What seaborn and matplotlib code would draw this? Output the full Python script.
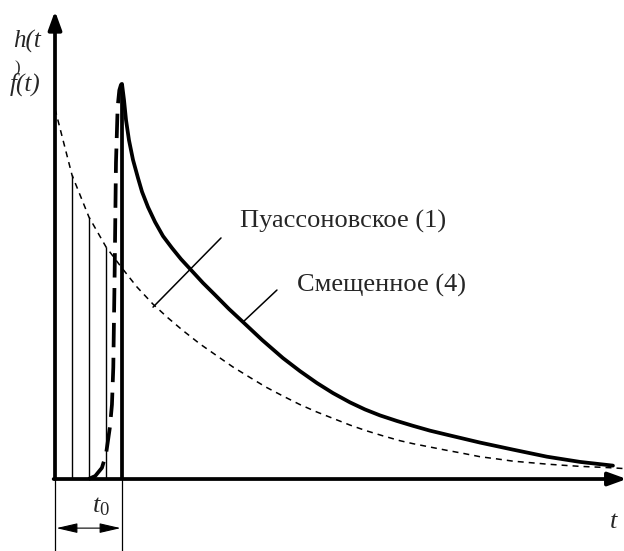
import matplotlib
matplotlib.use("Agg")
import matplotlib.pyplot as plt
import seaborn as sns
import pandas as pd

# ---- data (t in units of t0, values in units of f(0)) ----
t0 = 1.0
t_pois = [0.0, 0.254, 0.507, 0.761, 1.0, 1.224, 1.463, 1.687, 1.91, 2.164, 2.418,
          2.657, 2.91, 3.149, 3.403, 3.657, 3.91, 4.149, 4.403, 4.642, 4.896,
          5.149, 5.343, 5.597, 5.851, 6.09, 6.343, 6.597, 6.836, 7.09, 7.343,
          7.582, 7.836, 8.09, 8.328, 8.493]
f_pois = [0.995, 0.817, 0.704, 0.624, 0.567, 0.516, 0.47, 0.433, 0.399, 0.363,
          0.331, 0.301, 0.273, 0.247, 0.223, 0.2, 0.18, 0.163, 0.145, 0.13,
          0.116, 0.103, 0.095, 0.086, 0.077, 0.069, 0.06, 0.054, 0.048, 0.044,
          0.04, 0.037, 0.034, 0.032, 0.03, 0.028]

t_shift = [1.0, 1.03, 1.06, 1.104, 1.164, 1.239, 1.299, 1.388, 1.493, 1.612,
           1.746, 1.881, 2.03, 2.209, 2.388, 2.597, 2.806, 3.09, 3.403, 3.657,
           3.91, 4.149, 4.403, 4.627, 4.851, 5.104, 5.343, 5.597, 5.851, 6.343,
           6.836, 7.343, 7.836, 8.328]
h_shift = [1.062, 1.019, 0.965, 0.911, 0.858, 0.809, 0.772, 0.731, 0.691, 0.653,
           0.621, 0.591, 0.562, 0.527, 0.495, 0.457, 0.422, 0.374, 0.325, 0.29,
           0.258, 0.231, 0.206, 0.187, 0.171, 0.156, 0.143, 0.13, 0.119, 0.098,
           0.079, 0.06, 0.046, 0.036]

t_rise = [0.5, 0.6, 0.7, 0.76, 0.82, 0.85, 0.87, 0.89, 0.91, 0.935, 0.96, 0.985, 1.0]
g_rise = [0.0, 0.008, 0.03, 0.065, 0.14, 0.2, 0.3, 0.55, 0.85, 1.0, 1.045, 1.06, 1.062]

hatch_idx = [1, 2, 3]          # thin verticals at t = 0.25, 0.5, 0.75
label_pois = "Пуассоновское (1)"
label_shift = "Смещенное (4)"

# ---- figure ----
sns.set_theme(style="white")
plt.rcParams["font.family"] = ["Liberation Serif", "DejaVu Serif"]
plt.rcParams["mathtext.fontset"] = "custom"
plt.rcParams["mathtext.it"] = "Liberation Serif:italic"
plt.rcParams["mathtext.rm"] = "Liberation Serif"

fig = plt.figure(figsize=(6.24, 5.51), dpi=100)
ax = fig.add_axes([0, 0, 1, 1])
x_lo, x_hi = -0.821, 8.493
y_lo, y_hi = -0.1935, 1.2876
ax.set_xlim(x_lo, x_hi)
ax.set_ylim(y_lo, y_hi)
ax.axis("off")

df_p = pd.DataFrame({"t": t_pois, "v": f_pois})
df_s = pd.DataFrame({"t": t_shift, "v": h_shift})
df_r = pd.DataFrame({"t": t_rise, "v": g_rise})

sns.lineplot(data=df_p, x="t", y="v", ax=ax, color="black", lw=1.1,
             estimator=None, sort=False)
ax.lines[-1].set_dashes((3.9, 3.3))
sns.lineplot(data=df_s, x="t", y="v", ax=ax, color="black", lw=2.7,
             estimator=None, sort=False, solid_joinstyle="round",
             solid_capstyle="round")
sns.lineplot(data=df_r, x="t", y="v", ax=ax, color="black", lw=2.7,
             estimator=None, sort=False)
ax.lines[-1].set_dashes((6.5, 2.8))

# thin verticals under the Poisson curve
ax.vlines([t_pois[i] for i in hatch_idx], 0, [f_pois[i] for i in hatch_idx],
          color="black", lw=1.0)
# thick vertical at t0
ax.vlines(t0, 0, h_shift[0], color="black", lw=2.7)
# thin extensions below the axis
ax.vlines([0, t0], y_lo, 0, color="black", lw=0.9)

# axes with arrows
ax.annotate("", xy=(0, 1.258), xytext=(0, 0),
            arrowprops=dict(arrowstyle="-|>,head_length=0.55,head_width=0.2",
                            mutation_scale=20, lw=2.7, color="black",
                            shrinkA=0, shrinkB=0))
ax.annotate("", xy=(x_hi + 0.04, 0), xytext=(-0.02, 0), annotation_clip=False,
            arrowprops=dict(arrowstyle="-|>,head_length=0.55,head_width=0.2",
                            mutation_scale=20, lw=2.7, color="black",
                            shrinkA=0, shrinkB=0))
# t0 dimension arrow
ax.annotate("", xy=(0.02, -0.132), xytext=(t0 - 0.02, -0.132),
            arrowprops=dict(arrowstyle="<|-|>,head_length=1.3,head_width=0.3",
                            mutation_scale=10, lw=0.8, color="black",
                            shrinkA=0, shrinkB=0))

# leader lines
ax.plot([1.463, 2.478], [0.462, 0.648], color="black", lw=1.1)
ax.plot([2.806, 3.313], [0.422, 0.508], color="black", lw=1.1)

# texts
ax.text(2.761, 0.677, label_pois, fontsize=19, ha="left", va="baseline")
ax.text(3.612, 0.505, label_shift, fontsize=19, ha="left", va="baseline")
ax.text(-0.627, 1.159, "h(t", fontsize=18, fontstyle="italic", ha="left", va="baseline")
ax.text(-0.6, 1.105, ")", fontsize=12, ha="left", va="center")
ax.text(-0.672, 1.043, "f(t)", fontsize=18, fontstyle="italic", ha="left", va="baseline")
ax.text(0.55, -0.089, r"$t_0$", fontsize=19, ha="left", va="baseline")
ax.text(8.28, -0.132, "t", fontsize=19, fontstyle="italic", ha="left", va="baseline")

fig.savefig("out.png", dpi=100)
